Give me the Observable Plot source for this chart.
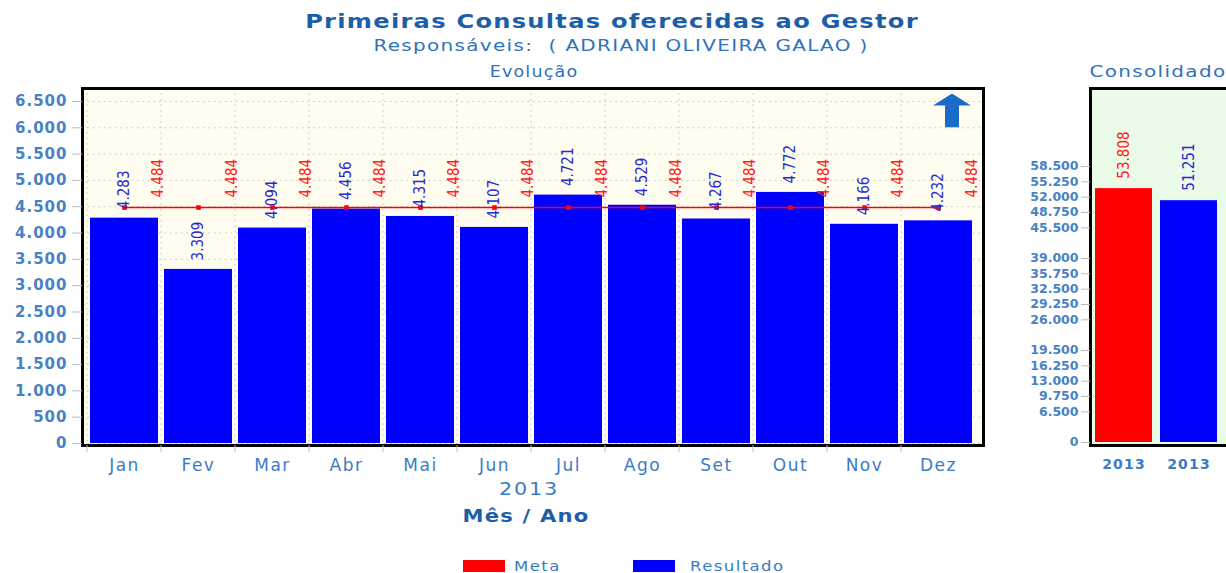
<!DOCTYPE html>
<html><head><meta charset="utf-8">
<script src="https://cdn.jsdelivr.net/npm/d3@7"></script>
<script src="https://cdn.jsdelivr.net/npm/@observablehq/plot@0.6"></script>
<style>
body{margin:0;background:#fff;overflow:hidden}
#wrap{position:relative;width:1226px;height:573px;overflow:hidden;font-family:"DejaVu Sans",sans-serif}
.t{position:absolute;white-space:nowrap;line-height:1}
#main{position:absolute;left:0;top:0;width:1000px}
#cons{position:absolute;left:1030px;top:0;width:210px}
#main svg,#cons svg{max-width:none}
.sw{position:absolute;width:42px;height:12px}
.lg{position:absolute;font-size:14px;color:#3a7cc4;letter-spacing:1.2px;line-height:1;transform-origin:0 0;transform:scaleX(1.18)}
</style></head><body>
<div id="wrap">
  <div class="t" style="left:612px;top:12px;font-size:19px;font-weight:bold;color:#1c5ea8;letter-spacing:1px;transform:translateX(-50%) scaleX(1.27)">Primeiras Consultas oferecidas ao Gestor</div>
  <div class="t" style="left:621px;top:39px;font-size:15px;color:#2f72bd;letter-spacing:1px;transform:translateX(-50%) scaleX(1.33)">Responsáveis:&nbsp;&nbsp;( ADRIANI OLIVEIRA GALAO )</div>
  <div class="t" style="left:534px;top:65px;font-size:15px;color:#2f72bd;letter-spacing:1px;transform:translateX(-50%) scaleX(1.17)">Evolução</div>
  <div class="t" style="left:1158px;top:65px;font-size:15px;color:#2f72bd;letter-spacing:1px;transform:translateX(-50%) scaleX(1.33)">Consolidado</div>
  <div class="t" style="left:529px;top:481px;font-size:17px;color:#3a7cc4;letter-spacing:1.5px;transform:translateX(-50%) scaleX(1.22)">2013</div>
  <div class="t" style="left:526px;top:508px;font-size:17px;font-weight:bold;color:#1c5ea8;letter-spacing:1px;transform:translateX(-50%) scaleX(1.24)">Mês / Ano</div>
  <div id="main"></div>
  <div id="cons"></div>
  <div class="sw" style="left:463px;top:560px;background:#ff0000"></div>
  <div class="lg" style="left:514px;top:559px">Meta</div>
  <div class="sw" style="left:633px;top:560px;background:#0000ff"></div>
  <div class="lg" style="left:690px;top:559px">Resultado</div>
</div>
<script>
const months = ["Jan","Fev","Mar","Abr","Mai","Jun","Jul","Ago","Set","Out","Nov","Dez"];
const resultado = [4283,3309,4094,4456,4315,4107,4721,4529,4267,4772,4166,4232];
const meta = [4484,4484,4484,4484,4484,4484,4484,4484,4484,4484,4484,4484];
const yTicks = [0,500,1000,1500,2000,2500,3000,3500,4000,4500,5000,5500,6000,6500];

const consCategories = ["Meta","Resultado"];
const consLabels = ["2013","2013"];
const consValues = [53808,51251];
const consColors = ["#ff0000","#0000ff"];
const consTicks = [0,6500,9750,13000,16250,19500,26000,29250,32500,35750,39000,45500,48750,52000,55250,58500];

const fmt = d => d3.format(",")(d).replace(/,/g, ".");
const data = months.map((m,i) => ({month:m, resultado:resultado[i], meta:meta[i]}));
const consData = consCategories.map((c,i) => ({cat:c, label:consLabels[i], value:consValues[i], color:consColors[i]}));

const xr = [82, 981];
const step = (xr[1]-xr[0]) / months.length;

const arrowSvg = '<svg xmlns="http://www.w3.org/2000/svg" viewBox="0 0 38 34" width="38" height="34"><path d="M19 0 L38 12 L26 12 L26 34 L12 34 L12 12 L0 12 Z" fill="#1a6cc8"/></svg>';
const arrowSrc = "data:image/svg+xml;utf8," + encodeURIComponent(arrowSvg);

const main = Plot.plot({
  width: 1000, height: 480,
  marginTop: 88, marginBottom: 35, marginLeft: 82, marginRight: 17,
  style: {fontFamily: "DejaVu Sans", background: "transparent", overflow: "visible"},
  x: {type: "band", domain: months, range: xr, paddingInner: 0.08, paddingOuter: 0.04, axis: null},
  y: {domain: [-38, 6747], axis: null},
  marks: [
    Plot.frame({fill: "#fffdf0"}),
    Plot.gridY(yTicks, {stroke: "#c4c4b8", strokeOpacity: 1, strokeDasharray: "1.5,4"}),
    Plot.gridX(months, {dx: -step/2, stroke: "#c4c4b8", strokeOpacity: 1, strokeDasharray: "1.5,4"}),
    Plot.barY(data, {x: "month", y: "resultado", fill: "#0000ff"}),
    Plot.line(data, {x: "month", y: "meta", stroke: "#ff0000", strokeWidth: 1.5}),
    Plot.dot(data, {x: "month", y: "meta", symbol: "square", r: 2.6, fill: "#ff0000"}),
    Plot.text(data, {x: "month", y: "resultado", text: d => fmt(d.resultado), rotate: -90, textAnchor: "start", dy: -9, fill: "#2a2ad0", fontSize: 15, fontFamily: "DejaVu Sans Condensed"}),
    Plot.text(data, {x: "month", y: "meta", text: d => fmt(d.meta), rotate: -90, textAnchor: "start", dx: step*0.45, dy: -10, fill: "#ff2020", fontSize: 15, fontFamily: "DejaVu Sans Condensed"}),
    Plot.image([0], {frameAnchor: "top-right", src: arrowSrc, width: 38, height: 34, dx: -31.5, dy: 22}),
    Plot.frame({stroke: "#000", strokeWidth: 3}),
    Plot.axisY(yTicks, {tickSize: 10, tickPadding: 5, tickFormat: fmt, fontSize: 15, fontWeight: "bold", color: "#4682c4", stroke: "#bbbbbb", label: null}),
    Plot.axisX({tickSize: 0, tickPadding: 13, fontSize: 17, color: "#3a7cc4", label: null}),
    Plot.axisX({tickSize: 7, dx: -step/2, tickFormat: () => "", stroke: "#bbbbbb", label: null})
  ]
});
document.getElementById("main").appendChild(main);

const cons = Plot.plot({
  width: 210, height: 480,
  marginTop: 88, marginBottom: 35, marginLeft: 60, marginRight: 0,
  style: {fontFamily: "DejaVu Sans", background: "transparent", overflow: "visible"},
  x: {type: "band", domain: consCategories, range: [59, 192], paddingInner: 0.13, paddingOuter: 0.08, axis: null},
  y: {domain: [-636, 75030], axis: null},
  marks: [
    Plot.frame({fill: "#eafbe8"}),
    Plot.barY(consData, {x: "cat", y: "value", fill: "color"}),
    Plot.text(consData, {x: "cat", y: "value", text: d => fmt(d.value), rotate: -90, textAnchor: "start", dy: -10, fill: d => d.cat === "Meta" ? "#ff2020" : "#2a2ad0", fontSize: 15, fontFamily: "DejaVu Sans Condensed"}),
    Plot.frame({stroke: "#000", strokeWidth: 3}),
    Plot.axisY(consTicks, {tickSize: 9, tickPadding: 3, tickFormat: fmt, fontSize: 12.5, fontWeight: "bold", color: "#4682c4", stroke: "#bbbbbb", label: null}),
    Plot.axisX({tickSize: 0, tickPadding: 14, tickFormat: (d) => consLabels[consCategories.indexOf(d)], fontSize: 14, fontWeight: "bold", color: "#3a7cc4", label: null})
  ]
});
document.getElementById("cons").appendChild(cons);

d3.selectAll('#main g[aria-label="y-axis tick label"]').style("letter-spacing", "1px");
d3.selectAll('#main g[aria-label="x-axis tick label"]').style("letter-spacing", "1.5px");
d3.selectAll('#cons g[aria-label="x-axis tick label"]').style("letter-spacing", "1.2px");
</script>
</body></html>
